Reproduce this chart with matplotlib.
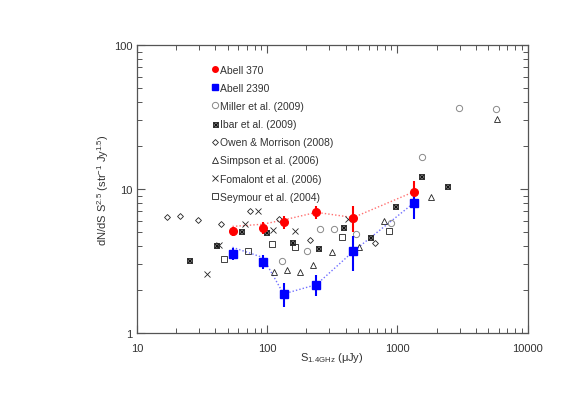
import matplotlib
matplotlib.use("Agg")
import matplotlib.pyplot as plt
import numpy as np
from matplotlib.legend_handler import HandlerTuple
import matplotlib.lines as mlines

plt.rcParams['font.family'] = ['Liberation Sans', 'DejaVu Sans']
plt.rcParams['mathtext.fontset'] = 'custom'
plt.rcParams['mathtext.rm'] = 'Liberation Sans'
plt.rcParams['mathtext.it'] = 'Liberation Sans'

# ---- data ----
a370_x = [54.2, 92.7, 133.6, 239, 458, 1343]
a370_y = [5.08, 5.39, 5.90, 6.89, 6.34, 9.58]
a370_err = [0.36, 0.54, 0.59, 0.69, 1.3, 1.8]
a370_line_y = [5.5, 5.7, 6.1, 6.89, 6.34, 9.58]

a2390_x = [54.2, 92.7, 133.6, 239, 458, 1343]
a2390_y = [3.54, 3.13, 1.87, 2.17, 3.69, 8.03]
a2390_err = [0.34, 0.36, 0.36, 0.37, 1.0, 1.8]
a2390_line_y = [3.94, 3.35, 1.87, 2.17, 3.69, 8.03]

miller_x = [130, 203, 255, 325, 485, 895, 1548, 2974, 5718]
miller_y = [3.19, 3.70, 5.26, 5.26, 4.89, 5.82, 16.7, 36.7, 35.8]

ibar_x = [25.2, 40.6, 62.5, 98.2, 155.5, 246, 385, 611, 960, 1513, 2382]
ibar_y = [3.20, 4.10, 5.08, 5.03, 4.28, 3.87, 5.43, 4.66, 7.66, 12.25, 10.5]

owen_x = [17.1, 21.6, 29.5, 44.1, 74.1, 123.6, 214, 671]
owen_y = [6.42, 6.45, 6.06, 5.71, 7.0, 6.19, 4.44, 4.2]

simpson_x = [113, 142, 179, 224, 315, 505, 793, 1815, 5794]
simpson_y = [2.64, 2.75, 2.65, 2.96, 3.65, 3.94, 6.04, 8.87, 30.8]

fomalont_x = [34.6, 42.6, 67.8, 84.4, 111.2, 165, 421]
fomalont_y = [2.58, 4.08, 5.69, 7.0, 5.19, 5.08, 6.19]

seymour_x = [46.9, 71.5, 108.1, 162.3, 373, 862]
seymour_y = [3.25, 3.71, 4.13, 3.97, 4.63, 5.13]

labels = ["Abell 370", "Abell 2390", "Miller et al. (2009)", "Ibar et al. (2009)",
          "Owen & Morrison (2008)", "Simpson et al. (2006)", "Fomalont et al. (2006)",
          "Seymour et al. (2004)"]

# ---- figure ----
fig = plt.figure(figsize=(5.85, 4.14), dpi=100)
ax = fig.add_axes([0.234, 0.193, 0.668, 0.696])
ax.set_xscale('log')
ax.set_yscale('log')
ax.set_xlim(10, 10000)
ax.set_ylim(1, 100)

axc = '#555555'
txtc = '#333333'

# dotted model lines
ax.plot(a370_x, a370_line_y, ls=(0, (1, 1.5)), color='#ff7070', lw=1.0, zorder=2)
ax.plot(a2390_x, a2390_line_y, ls=(0, (1, 1.5)), color='#7070ff', lw=1.0, zorder=2)

h_miller, = ax.plot(miller_x, miller_y, 'o', mfc='none', mec='#888888', mew=0.7, ms=4.5, ls='none', zorder=3)
h_ib1, = ax.plot(ibar_x, ibar_y, 's', mfc='#777777', mec='#222222', mew=0.6, ms=3.6, ls='none', zorder=3)
h_ib2, = ax.plot(ibar_x, ibar_y, 'x', color='#111111', mew=0.6, ms=3.6, ls='none', zorder=3)
h_owen, = ax.plot(owen_x, owen_y, 'D', mfc='none', mec='#222222', mew=0.6, ms=3.0, ls='none', zorder=3)
h_simp, = ax.plot(simpson_x, simpson_y, '^', mfc='none', mec='#222222', mew=0.6, ms=4.2, ls='none', zorder=3)
h_foma, = ax.plot(fomalont_x, fomalont_y, 'x', color='#222222', mew=0.6, ms=4.2, ls='none', zorder=3)
h_sey, = ax.plot(seymour_x, seymour_y, 's', mfc='none', mec='#222222', mew=0.6, ms=4.5, ls='none', zorder=3)

ax.errorbar(a370_x, a370_y, yerr=a370_err, fmt='none', ecolor='red', elinewidth=1.5, capsize=0, zorder=4)
ax.plot(a370_x, a370_y, 'o', color='red', ms=5.5, ls='none', zorder=5)
ax.errorbar(a2390_x, a2390_y, yerr=a2390_err, fmt='none', ecolor='blue', elinewidth=1.5, capsize=0, zorder=4)
ax.plot(a2390_x, a2390_y, 's', color='blue', ms=5.5, ls='none', zorder=5)

# legend proxies with smaller markers
p370 = mlines.Line2D([], [], marker='o', color='red', ms=4, ls='none')
p2390 = mlines.Line2D([], [], marker='s', color='blue', ms=4, ls='none')
handles = [p370, p2390, h_miller, (h_ib1, h_ib2), h_owen, h_simp, h_foma, h_sey]
leg = ax.legend(handles, labels, loc='upper left', bbox_to_anchor=(0.193, 0.931),
                frameon=False, fontsize=7.5, handlelength=0.6, handletextpad=0.15,
                labelspacing=0.78, borderaxespad=0, borderpad=0,
                handler_map={tuple: HandlerTuple(ndivide=1)})
for t in leg.get_texts():
    t.set_color(txtc)

# axes styling
for s in ax.spines.values():
    s.set_color(axc)
    s.set_linewidth(0.9)
ax.tick_params(which='both', direction='in', top=True, right=True, colors=axc,
               labelcolor=txtc, labelsize=8)
ax.tick_params(which='major', length=6, width=0.8, pad=7)
ax.tick_params(which='minor', length=3.5, width=0.7)
ax.set_xticks([10, 100, 1000, 10000])
ax.set_xticklabels(['10', '100', '1000', '10000'])
ax.set_yticks([1, 10, 100])
ax.set_yticklabels(['1', '10', '100'])
ax.tick_params(axis='y', which='major', pad=3)

ax.set_xlabel(r'S$_{\rm 1.4GHz}$ ($\mu$Jy)', fontsize=8, color=txtc, labelpad=-2)
ax.set_ylabel(r'dN/dS S$^{2.5}$ (str$^{-1}$ Jy$^{1.5}$)', fontsize=8, color=txtc, labelpad=2)

fig.savefig('out.png', dpi=100)
